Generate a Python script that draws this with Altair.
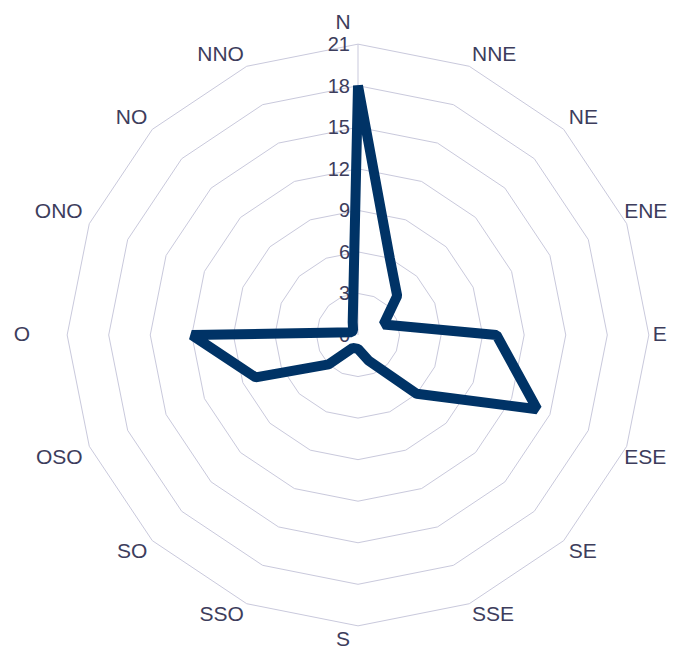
import altair as alt
import numpy as np
import pandas as pd

# ---- data ----
directions = ["N", "NNE", "NE", "ENE", "E", "ESE", "SE", "SSE",
              "S", "SSO", "SO", "OSO", "O", "ONO", "NO", "NNO"]
values = [18, 6, 4, 2, 10, 14, 6, 2, 1, 1, 3, 8, 12, 0.5, 0.5, 1]
ring_levels = [3, 6, 9, 12, 15, 18, 21]
tick_values = [0, 3, 6, 9, 12, 15, 18, 21]

# ---- layout constants ----
W, H = 660, 645
CX, CY = 350, 327          # pole position inside plot (px)
UNIT = 13.85               # px per value unit
TEXT = "#3d3d5c"
GRID = "#c9c9dc"
LINE = "#003366"
FONT = "Liberation Sans"
LABEL_FS = 21

n = len(directions)
theta = np.arange(n) * 2 * np.pi / n
s, c = np.sin(theta), np.cos(theta)
vals = np.array(values, dtype=float)

series = pd.DataFrame({"dir": directions, "order": range(n),
                       "x": vals * s, "y": vals * c, "value": vals})

rings = pd.DataFrame([{"ring": r, "order": i, "x": r * s[i], "y": r * c[i]}
                      for r in ring_levels for i in range(n)])

ticks = pd.DataFrame({"v": tick_values, "label": [str(t) for t in tick_values]})

spoke = pd.DataFrame({"x": [0.0], "y": [0.0], "y2": [float(ring_levels[-1])]})

# label placement (in px relative to the pole, then converted to data units)
right_limit = W - CX - 1
bottom_limit = -(H - CY) + LABEL_FS / 2 + 3
lab = []
for i, d in enumerate(directions):
    cardinal = (i % 4 == 0)
    if cardinal:
        px = 313 * s[i] - 15
        py = 312 * c[i]
    else:
        px = 298 * s[i]
        py = 302 * c[i] + np.sign(c[i]) * 12 * (1 - abs(c[i]))
    py = max(py, bottom_limit)
    if abs(s[i]) < 1e-6:
        al = "center"
    elif s[i] > 0:
        al = "left"
        est_w = 0.68 * LABEL_FS * len(d)
        px = min(px, right_limit - est_w)
    else:
        al = "right"
    lab.append({"dir": d, "x": px / UNIT, "y": py / UNIT, "align": al})
labels = pd.DataFrame(lab)

xs = alt.Scale(domain=[-CX / UNIT, (W - CX) / UNIT], nice=False, zero=False)
ys = alt.Scale(domain=[-(H - CY) / UNIT, CY / UNIT], nice=False, zero=False)
X = lambda f="x": alt.X(f"{f}:Q", scale=xs, axis=None)
Y = lambda f="y": alt.Y(f"{f}:Q", scale=ys, axis=None)

ring_layer = alt.Chart(rings).mark_line(
    interpolate="linear-closed", stroke=GRID, strokeWidth=1
).encode(x=X(), y=Y(), detail="ring:N", order="order:Q")

spoke_layer = alt.Chart(spoke).mark_rule(stroke=GRID, strokeWidth=1).encode(
    x=X(), y=Y(), y2="y2:Q")

tick_layer = alt.Chart(ticks).mark_text(
    align="right", baseline="middle", dx=-8, dy=1, font=FONT, fontSize=20, color=TEXT
).encode(x=alt.X("zero:Q", scale=xs, axis=None), y=alt.Y("v:Q", scale=ys, axis=None),
         text="label:N").transform_calculate(zero="0")

line_layer = alt.Chart(series).mark_line(
    interpolate="linear-closed", stroke=LINE, strokeWidth=10, strokeJoin="bevel"
).encode(x=X(), y=Y(), order="order:Q")

label_layers = []
for al in ["left", "center", "right"]:
    label_layers.append(
        alt.Chart(labels).transform_filter(alt.datum.align == al).mark_text(
            align=al, baseline="middle", font=FONT, fontSize=LABEL_FS, color=TEXT
        ).encode(x=X(), y=Y(), text="dir:N")
    )

chart = alt.layer(ring_layer, spoke_layer, tick_layer, line_layer, *label_layers).properties(
    width=W, height=H, padding=0, autosize=alt.AutoSizeParams(type="none"),
    background="white"
).configure_view(stroke=None)

chart.save("out.html", embed_options={"renderer": "svg", "actions": False})
